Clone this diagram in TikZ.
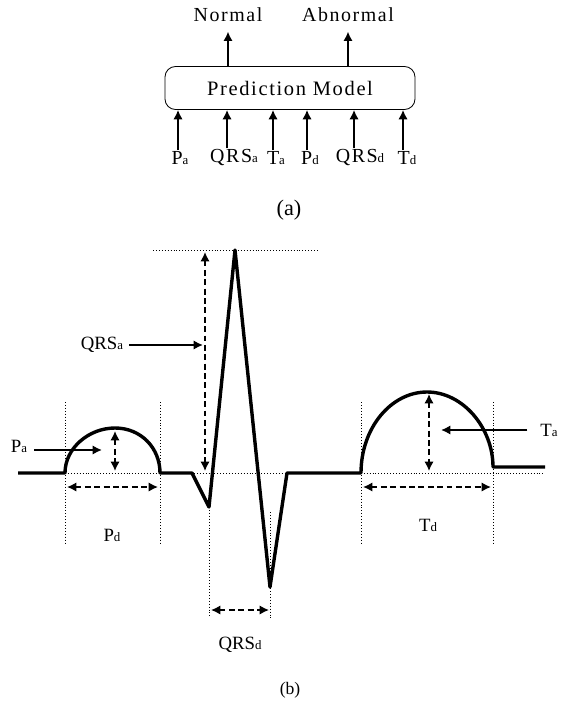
\documentclass[tikz,border=0pt]{standalone}
\usepackage{fontspec}
\setmainfont{Liberation Serif}
\newfontfamily\wideserif[LetterSpace=8]{Liberation Serif}
\usepackage{tikz}
\usetikzlibrary{positioning, arrows.meta, calc}

\newcommand{\lowtxt}[1]{{\fontsize{11}{11}\selectfont #1}}

\begin{document}
\begin{tikzpicture}[
  x=0.03cm, y=-0.03cm,
  model/.style={draw, rounded corners=9pt, minimum width=7.5cm, minimum height=1.29cm, line width=0.7pt, font=\wideserif\fontsize{17.5}{19}\selectfont},
  tag/.style={inner sep=1pt, font=\wideserif\fontsize{17}{19}\selectfont},
  lbl/.style={inner sep=1pt, font=\fontsize{16}{18}\selectfont},
  flow/.style={->, line width=1.5pt},
  ecg/.style={line width=2.9pt, line join=round},
  guide/.style={dotted, line width=0.5pt},
  meas/.style={<->, dash pattern=on 5pt off 3pt, line width=1.4pt},
  >={Latex[length=8pt, width=8pt]}
]
  \useasboundingbox (0,0) rectangle (561,705);

  % 1. Prediction model (part a)
  \node[model] (model) at (290,88) {Prediction Model};
  \node[tag] (normal) at (228,15) {Normal};
  \node[tag] (abnormal) at (348,15) {Abnormal};
  \draw[flow, shorten >=7pt] (normal.south |- model.north) -- (normal.south);
  \draw[flow, shorten >=7pt] (abnormal.south |- model.north) -- (abnormal.south);

  % inputs
  \node[tag] (ina) at (180,158) {P\lowtxt{a}};
  \node[tag] (inqa) at (234,158) {QRS\lowtxt{a}};
  \node[tag] (inta) at (276,158) {T\lowtxt{a}};
  \node[tag] (inpd) at (310,158) {P\lowtxt{d}};
  \node[tag] (inqd) at (360,158) {QRS\lowtxt{d}};
  \node[tag] (intd) at (407,158) {T\lowtxt{d}};
  \foreach \n/\dx in {ina/-2, inqa/-7, inta/-3, inpd/-3, inqd/-6, intd/-4}
    \draw[flow] ([xshift=\dx*0.85pt]\n.north) -- ([xshift=\dx*0.85pt]\n.north |- model.south);

  \node[font=\fontsize{19}{21}\selectfont] (capa) at (289,210) {(a)};

  % 2. Guide lines (part b)
  \draw[guide] (153,250) -- (318,250);
  \draw[guide] (65,473) -- (545,473);
  \foreach \gx in {65,160,361,493}
    \draw[guide] (\gx,402) -- (\gx,545);
  \draw[guide] (209,507) -- (209,618);
  \draw[guide] (270,512) -- (270,618);

  % 3. ECG waveform
  \draw[ecg] (18,473) -- (65,473)
    .. controls (65,448) and (89,428) .. (115,428)
    .. controls (141,428) and (160,448) .. (160,473)
    -- (192,473) -- (209,507) -- (235,250) -- (270,587) -- (287,473) -- (361,473)
    .. controls (361,428) and (391,392) .. (427,392)
    .. controls (463,392) and (493,428) .. (493,467)
    -- (545,467);

  % 4. Measurements
  \coordinate (patop) at (115,431);
  \coordinate (pabot) at (115,471);
  \coordinate (qatop) at (205,252);
  \coordinate (qabot) at (205,471);
  \coordinate (tatop) at (429,394);
  \coordinate (tabot) at (429,471);
  \coordinate (pdl) at (67,487);
  \coordinate (pdr) at (158,487);
  \coordinate (tdl) at (363,487);
  \coordinate (tdr) at (491,487);
  \coordinate (qdl) at (211,610);
  \coordinate (qdr) at (269,610);
  \draw[meas] (patop) -- (pabot);
  \draw[meas] (qatop) -- (qabot);
  \draw[meas] (tatop) -- (tabot);
  \draw[meas] (pdl) -- (pdr);
  \draw[meas] (tdl) -- (tdr);
  \draw[meas] (qdl) -- (qdr);

  % 5. Labels with pointers
  \node[lbl] (pa) at (19,446) {P\lowtxt{a}};
  \node[lbl] (qrsa) at (102,345) {QRS\lowtxt{a}};
  \node[lbl] (ta) at (549,430) {T\lowtxt{a}};
  \coordinate (pahit) at (102,450);
  \coordinate (qahit) at (203,345);
  \coordinate (tahit) at (441,430);
  \draw[flow] ([xshift=5pt]pa.east |- pahit) -- (pahit);
  \draw[flow] ([xshift=4pt]qrsa.east) -- (qahit);
  \draw[flow] ([xshift=-10pt]ta.west) -- (tahit);

  \node[lbl] (pd) at (112,535) {P\lowtxt{d}};
  \node[lbl] (td) at (428,525) {T\lowtxt{d}};
  \node[lbl] (qrsd) at (240,645) {QRS\lowtxt{d}};
  \node[font=\fontsize{15}{17}\selectfont] (capb) at (290,690) {(b)};
\end{tikzpicture}
\end{document}
